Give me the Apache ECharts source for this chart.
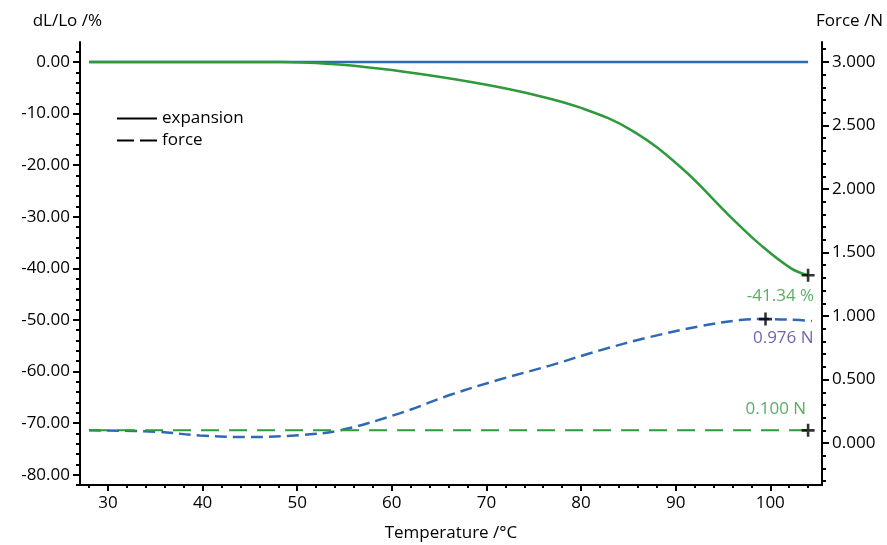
<!DOCTYPE html>
<html><head><meta charset="utf-8">
<script src="https://cdn.jsdelivr.net/npm/echarts@6/dist/echarts.min.js"></script>
<style>html,body{margin:0;padding:0;background:#fff}#c{width:887px;height:545px}</style>
</head><body><div id="c"></div>
<script>
const expTemp = [28, 40, 48.3, 53.6, 58.8, 64.1, 69.4, 74.7, 80, 85.3, 90.6, 95.9, 99, 102.2, 104];
const expVal  = [0, 0, 0, -0.4, -1.3, -2.6, -4.2, -6.2, -8.9, -13.2, -20.5, -30.2, -35.5, -40, -41.34];
const baseTemp = [28, 104];
const baseExp = [0, 0];
const forceTemp = [28, 35, 39.7, 45, 50.3, 54.5, 60.9, 66.2, 71.4, 76.7, 82, 87.3, 92.6, 96.8, 99.5, 103.1, 104.4];
const forceVal  = [0.10, 0.09, 0.06, 0.047, 0.063, 0.10, 0.236, 0.38, 0.50, 0.61, 0.73, 0.835, 0.92, 0.968, 0.976, 0.968, 0.96];
const baseForce = [0.1, 0.1];
const leftTicks = [0, -10, -20, -30, -40, -50, -60, -70, -80];
const rightTicks = [0, 0.5, 1, 1.5, 2, 2.5, 3];
const xTicks = [30, 40, 50, 60, 70, 80, 90, 100];
const markers = [{t: 104, v: -41.34, axis: 0, text: '-41.34 %', color: '#2e9a3c', pos: 'bottom', off: [6, 0]},
                 {t: 99.5, v: 0.976, axis: 1, text: '0.976 N', color: '#4a3f9f', pos: 'bottom', off: [48, -2]},
                 {t: 104, v: 0.1, axis: 1, text: '0.100 N', color: '#2e9a3c', pos: 'top', off: [-2, 0]}];

const range = (a, b, s) => { const r = []; for (let v = a; v <= b + 1e-9; v += s) r.push(+v.toFixed(3)); return r; };
const font = 'Open Sans';
const zip = (a, b) => a.map((x, i) => [x, b[i]]);
const blue = '#2f68b4', green = '#2e9a3c';
const plus = 'path://M4,0H6V4H10V6H6V10H4V6H0V4H4Z';
const txt = {fontFamily: font, fontSize: 17, color: '#000'};

const yBase = {type: 'value', splitLine: {show: false}, axisLine: {show: true, onZero: false, lineStyle: {color: '#000', width: 2}}};
const option = {
  animation: false,
  textStyle: {fontFamily: font},
  grid: {left: 80, right: 65, top: 42, bottom: 60, containLabel: false, outerBoundsMode: 'none'},
  legend: {orient: 'vertical', left: 112, top: 105, itemWidth: 40, itemHeight: 10, itemGap: 5,
    textStyle: {fontFamily: font, fontSize: 17, color: '#000'},
    data: [{name: 'expansion', icon: 'path://M0,4H40V6H0Z'},
           {name: 'force', icon: 'path://M0,4H17V6H0ZM23,4H40V6H23Z'}]},
  xAxis: [
    {type: 'value', min: 27.04, max: 105.47, name: 'Temperature /°C', nameLocation: 'middle', nameGap: 40,
     nameTextStyle: txt, splitLine: {show: false},
     axisLine: {onZero: false, lineStyle: {color: '#000', width: 2}},
     axisTick: {customValues: xTicks, length: 6, lineStyle: {color: '#000', width: 2}},
     axisLabel: {customValues: xTicks, ...txt, margin: 10}},
    {type: 'value', min: 27.04, max: 105.47, position: 'bottom', splitLine: {show: false},
     axisLine: {show: false, onZero: false}, axisLabel: {show: false},
     axisTick: {customValues: range(28, 104, 2), length: 3, lineStyle: {color: '#000', width: 2}}}
  ],
  yAxis: [
    {...yBase, min: -82.0, max: 3.88, position: 'left', name: 'dL/Lo /%', nameGap: 12, nameTextStyle: {...txt, padding: [0, -22, 0, 0], align: 'right'},
     axisTick: {customValues: leftTicks, length: 7, lineStyle: {color: '#000', width: 2}},
     axisLabel: {customValues: leftTicks, ...txt, formatter: v => v.toFixed(2), margin: 10}},
    {...yBase, min: -0.33, max: 3.157, position: 'right', name: 'Force /N', nameGap: 12, nameTextStyle: {...txt, padding: [0, 0, 0, -6], align: 'left'},
     axisTick: {customValues: rightTicks, length: 7, lineStyle: {color: '#000', width: 2}},
     axisLabel: {customValues: rightTicks, ...txt, formatter: v => v.toFixed(3), margin: 10}},
    {...yBase, min: -82.0, max: 3.88, position: 'left', axisLine: {show: false, onZero: false}, axisLabel: {show: false},
     axisTick: {customValues: range(-82, 2, 2), length: 4, lineStyle: {color: '#000', width: 2}}},
    {...yBase, min: -0.33, max: 3.157, position: 'right', axisLine: {show: false, onZero: false}, axisLabel: {show: false},
     axisTick: {customValues: range(-0.3, 3.1, 0.1), length: 4, lineStyle: {color: '#000', width: 2}}}
  ],
  series: [
    {name: 'expansion', type: 'line', data: [], symbol: 'none', lineStyle: {color: '#000', width: 2}, itemStyle: {color: '#000'}},
    {name: 'force', type: 'line', data: [], symbol: 'none', lineStyle: {color: '#000', width: 2, type: [10, 6]}, itemStyle: {color: '#000'}},
    {type: 'line', yAxisIndex: 0, data: zip(baseTemp, baseExp), symbol: 'none', lineStyle: {color: blue, width: 2.5}},
    {type: 'line', yAxisIndex: 0, data: zip(expTemp, expVal), smooth: 0.4, symbol: 'none', lineStyle: {color: green, width: 2.5}},
    {type: 'line', yAxisIndex: 1, data: zip(forceTemp, forceVal), smooth: 0.4, symbol: 'none', lineStyle: {color: blue, width: 2.5, type: [12, 6]}},
    {type: 'line', yAxisIndex: 1, data: zip(baseTemp, baseForce), symbol: 'none', lineStyle: {color: green, width: 2, type: [18, 10]}},
    ...markers.map(m => ({type: 'scatter', yAxisIndex: m.axis, symbol: plus, symbolSize: 13, itemStyle: {color: '#000'},
      data: [[m.t, m.v]], z: 5,
      label: {show: true, position: m.pos, align: 'right', offset: m.off, formatter: m.text,
        fontFamily: font, fontSize: 17, color: m.color, distance: 6}}))
  ]
};
echarts.init(document.getElementById('c')).setOption(option);
</script></body></html>
